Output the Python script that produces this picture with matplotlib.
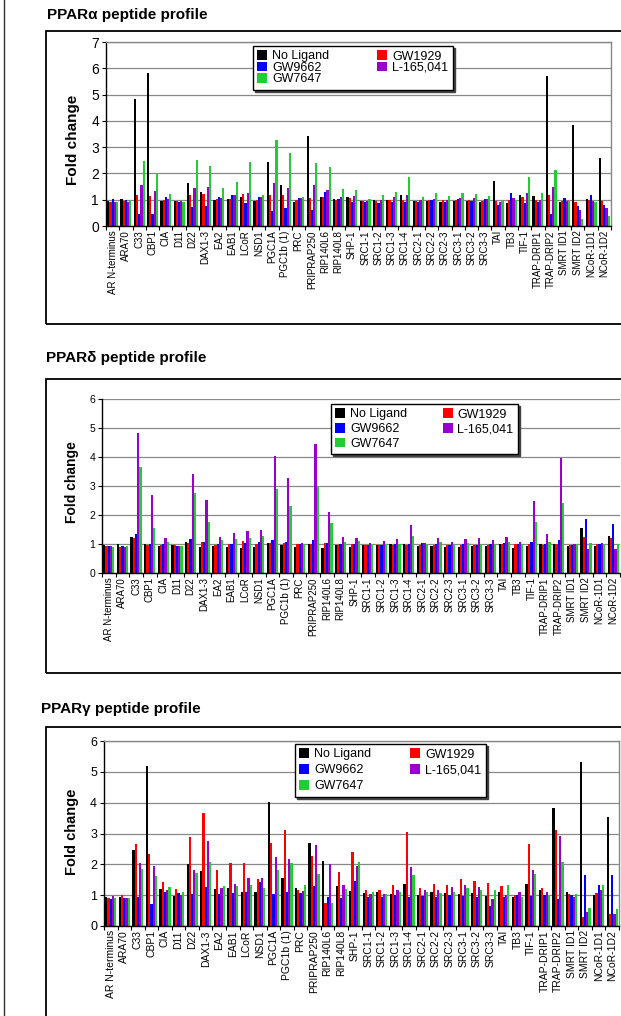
import matplotlib
matplotlib.use("Agg")
import matplotlib.pyplot as plt
from matplotlib.patches import Rectangle
from matplotlib.lines import Line2D
import numpy as np

plt.rcParams['font.family'] = ['Liberation Sans', 'DejaVu Sans']

peptides = ["AR N-terminus", "ARA70", "C33", "CBP1", "CIA", "D11", "D22", "DAX1-3",
            "EA2", "EAB1", "LCoR", "NSD1", "PGC1A", "PGC1b (1)", "PRC", "PRIPRAP250",
            "RIP140L6", "RIP140L8", "SHP-1", "SRC1-1", "SRC1-2", "SRC1-3", "SRC1-4",
            "SRC2-1", "SRC2-2", "SRC2-3", "SRC3-1", "SRC3-2", "SRC3-3", "TAI", "TB3",
            "TIF-1", "TRAP-DRIP1", "TRAP-DRIP2", "SMRT ID1", "SMRT ID2", "NCoR-1D1",
            "NCoR-1D2"]

ligands = ["No Ligand", "GW1929", "GW9662", "L-165,041", "GW7647"]
colors = ["#000000", "#FF0000", "#0000FF", "#9900CC", "#22CC33"]

# PPAR alpha fold changes
alpha_none = [0.95, 1.03, 4.84, 5.81, 0.95, 0.95, 1.64, 1.30, 0.99, 1.03, 1.10, 0.95, 2.44,
              1.56, 0.91, 3.43, 1.10, 1.03, 1.10, 0.95, 0.99, 0.99, 1.18, 0.95, 0.95, 0.91,
              0.95, 0.95, 0.91, 1.72, 0.88, 1.18, 1.14, 5.72, 0.91, 3.85, 1.03, 2.59]
alpha_gw1929 = [0.93, 0.94, 1.18, 1.14, 0.99, 0.95, 1.18, 1.22, 1.03, 1.03, 1.22, 0.99, 1.18,
                1.18, 0.99, 1.07, 1.10, 0.99, 1.07, 0.95, 0.95, 0.99, 0.99, 0.95, 0.99, 0.99,
                0.99, 0.99, 0.95, 0.95, 0.99, 1.10, 0.99, 1.18, 0.95, 0.91, 0.99, 0.95]
alpha_gw9662 = [1.03, 0.99, 0.47, 0.47, 1.10, 0.91, 0.72, 0.76, 1.10, 1.18, 0.88, 1.10, 0.57,
                0.69, 1.07, 0.61, 1.30, 1.03, 0.91, 0.91, 0.88, 0.91, 0.91, 0.91, 0.99, 0.91,
                1.03, 0.95, 1.03, 0.80, 1.26, 0.88, 0.91, 0.46, 1.07, 0.76, 1.18, 0.80]
alpha_l165 = [0.93, 0.93, 1.56, 1.33, 1.03, 0.95, 1.45, 1.49, 1.07, 1.18, 1.26, 1.10, 1.64,
              1.45, 1.07, 1.56, 1.37, 1.10, 1.14, 0.95, 0.99, 1.10, 1.18, 0.99, 1.03, 0.99,
              1.07, 1.07, 1.03, 0.91, 1.07, 1.26, 0.99, 1.49, 0.95, 0.61, 0.95, 0.69]
alpha_gw7647 = [0.93, 0.95, 2.48, 1.96, 1.22, 0.91, 2.52, 2.29, 1.45, 1.68, 2.44, 1.18, 3.28,
                2.78, 1.10, 2.40, 2.25, 1.41, 1.37, 1.03, 1.18, 1.30, 1.87, 1.10, 1.26, 1.14,
                1.26, 1.22, 1.14, 0.95, 0.99, 1.87, 1.26, 2.13, 0.95, 0.27, 0.91, 0.38]

# PPAR delta fold changes
delta_none = [0.98, 1.01, 1.25, 1.01, 0.94, 0.98, 1.08, 0.91, 0.94, 0.91, 0.87, 0.91, 1.05,
              0.98, 0.91, 1.01, 0.87, 0.98, 0.91, 0.98, 0.98, 1.01, 1.01, 0.94, 0.94, 0.91,
              0.91, 0.94, 0.94, 1.01, 0.87, 0.94, 1.01, 1.01, 0.94, 1.56, 0.94, 1.29]
delta_gw1929 = [0.94, 0.91, 1.22, 0.98, 0.98, 0.98, 1.05, 1.08, 0.98, 1.01, 1.11, 1.01, 1.05,
                1.05, 1.01, 1.01, 1.05, 0.98, 1.01, 0.98, 0.98, 0.98, 0.98, 0.98, 0.98, 0.98,
                0.98, 0.98, 0.98, 1.01, 1.01, 1.01, 0.98, 1.01, 0.98, 1.25, 1.01, 1.22]
delta_gw9662 = [0.94, 0.94, 1.36, 1.01, 1.01, 0.94, 1.18, 1.08, 1.01, 1.01, 1.05, 1.08, 1.15,
                1.08, 1.01, 1.15, 1.05, 1.01, 1.01, 0.98, 0.98, 1.01, 1.01, 1.05, 1.01, 0.98,
                1.01, 0.98, 1.01, 1.05, 1.01, 1.08, 1.01, 1.15, 0.98, 1.87, 1.01, 1.70]
delta_l165 = [0.94, 0.91, 4.84, 2.70, 1.22, 0.94, 3.43, 2.53, 1.25, 1.39, 1.46, 1.49, 4.05,
              3.29, 1.05, 4.46, 2.11, 1.25, 1.22, 1.05, 1.11, 1.18, 1.67, 1.05, 1.22, 1.08,
              1.18, 1.22, 1.15, 1.25, 1.08, 2.49, 1.36, 3.98, 1.01, 0.84, 1.05, 0.84]
delta_gw7647 = [0.91, 0.94, 3.67, 1.56, 1.08, 0.94, 2.77, 1.77, 1.15, 1.18, 1.22, 1.29, 2.91,
                2.32, 1.01, 2.98, 1.74, 1.08, 1.11, 1.01, 1.01, 1.01, 1.29, 1.01, 1.08, 0.98,
                1.05, 1.01, 1.01, 1.08, 1.01, 1.77, 1.08, 2.43, 1.01, 1.05, 1.01, 1.01]

# PPAR gamma fold changes
gamma_none = [0.95, 0.95, 2.47, 5.18, 1.20, 0.97, 2.01, 1.78, 1.20, 1.23, 1.10, 1.10, 4.01,
              1.55, 1.23, 2.69, 2.10, 1.29, 1.13, 1.07, 1.10, 1.04, 1.36, 1.00, 1.10, 1.07,
              1.04, 1.07, 0.97, 1.10, 0.94, 1.36, 1.17, 3.82, 1.10, 5.31, 1.00, 3.53]
gamma_gw1929 = [0.92, 1.01, 2.65, 2.33, 1.42, 1.20, 2.88, 3.66, 1.81, 2.04, 2.04, 1.52, 2.69,
                3.11, 1.17, 2.27, 0.74, 1.75, 2.39, 1.17, 1.17, 1.33, 3.04, 1.23, 1.36, 1.33,
                1.52, 1.46, 1.39, 1.29, 1.00, 2.65, 1.23, 3.11, 1.04, 0.29, 1.07, 0.39]
gamma_gw9662 = [0.88, 0.92, 0.95, 0.72, 1.10, 1.07, 1.04, 1.26, 1.04, 1.07, 1.10, 1.42, 1.04,
                1.10, 1.07, 1.29, 0.94, 0.91, 1.46, 0.94, 0.94, 1.00, 0.94, 0.97, 0.94, 1.00,
                0.97, 0.94, 0.65, 0.94, 1.00, 0.97, 1.00, 0.87, 1.00, 1.65, 1.33, 1.65]
gamma_l165 = [0.98, 0.92, 2.04, 1.94, 1.17, 1.00, 1.81, 2.75, 1.23, 1.36, 1.55, 1.55, 2.23,
              2.17, 1.13, 2.62, 2.01, 1.33, 1.94, 1.04, 1.04, 1.17, 1.91, 1.17, 1.17, 1.26,
              1.33, 1.26, 0.87, 1.00, 1.10, 1.81, 1.10, 2.91, 0.94, 0.45, 1.17, 0.40]
gamma_gw7647 = [0.92, 0.92, 1.84, 1.62, 1.26, 1.10, 1.72, 2.07, 1.29, 1.29, 1.33, 1.23, 1.81,
                2.04, 1.33, 1.68, 0.74, 1.20, 2.07, 1.10, 1.04, 1.10, 1.65, 1.10, 1.07, 1.10,
                1.23, 1.17, 1.17, 1.33, 0.94, 1.68, 1.00, 2.07, 1.04, 0.58, 1.33, 0.55]

W, H = 621, 1016
fig = plt.figure(figsize=(W / 100, H / 100), dpi=100)


def px(x0, y0, x1, y1):
    # pixel box (top-left origin) -> figure fraction rect
    return [x0 / W, 1 - y1 / H, (x1 - x0) / W, (y1 - y0) / H]


panels = [
    dict(title="PPARα peptide profile", data=[alpha_none, alpha_gw1929, alpha_gw9662, alpha_l165, alpha_gw7647],
         ax=(106, 42, 611, 226), ymax=7, box=(46, 31, 700, 324), title_xy=(47, 15), ylab_xy=(73, 140),
         leg=(253, 46), border=True, tick_fs=10, cat_fs=7, ylab_fs=11, leg_fs=9, leg_sp=-0.05,
         colsp=3.8),
    dict(title="PPARδ peptide profile", data=[delta_none, delta_gw1929, delta_gw9662, delta_l165, delta_gw7647],
         ax=(102, 399, 620, 573), ymax=6, box=(46, 379, 700, 673), title_xy=(46, 358), ylab_xy=(72, 482),
         leg=(331, 404), border=False, tick_fs=7.5, cat_fs=7, ylab_fs=10, leg_fs=9, leg_sp=0.2,
         colsp=2.8),
    dict(title="PPARγ peptide profile", data=[gamma_none, gamma_gw1929, gamma_gw9662, gamma_l165, gamma_gw7647],
         ax=(104, 741, 619, 926), ymax=6, box=(46, 727, 700, 1021), title_xy=(41, 709), ylab_xy=(72, 832),
         leg=(295, 744), border=True, tick_fs=9, cat_fs=7.5, ylab_fs=10.5, leg_fs=9, leg_sp=0.3,
         colsp=3.1),
]

# page edge line
fig.add_artist(Line2D([4 / W, 4 / W], [0, 1], color="#333333", lw=1, transform=fig.transFigure))

x = np.arange(len(peptides))
bw = 0.165

for p in panels:
    bx0, by0, bx1, by1 = p["box"]
    fig.add_artist(Rectangle((bx0 / W, 1 - by1 / H), (bx1 - bx0) / W, (by1 - by0) / H,
                             transform=fig.transFigure, fill=False, ec="black", lw=1.3))
    fig.text(p["title_xy"][0] / W, 1 - p["title_xy"][1] / H, p["title"], fontsize=11,
             fontweight="bold", va="center", ha="left")
    fig.text(p["ylab_xy"][0] / W, 1 - p["ylab_xy"][1] / H, "Fold change", fontsize=p["ylab_fs"],
             fontweight="bold", rotation=90, va="center", ha="center")

    ax = fig.add_axes(px(*p["ax"]))
    for i, (vals, c, lab) in enumerate(zip(p["data"], colors, ligands)):
        ax.bar(x + (i - 2) * bw, vals, width=bw, color=c, label=lab, linewidth=0)

    ax.set_xlim(-0.5, len(peptides) - 0.5)
    ax.set_ylim(0, p["ymax"])
    ax.set_yticks(range(p["ymax"] + 1))
    ax.yaxis.grid(True, color="#888888", lw=0.9)
    ax.set_axisbelow(True)

    ax.set_xticks(np.arange(-0.5, len(peptides)))
    ax.set_xticklabels([])
    ax.set_xticks(x, minor=True)
    ax.set_xticklabels(peptides, minor=True, rotation=90, fontsize=p["cat_fs"], va="top", ha="center")
    ax.tick_params(axis="x", which="major", length=3, width=0.8, direction="out")
    ax.tick_params(axis="x", which="minor", length=0, pad=3)
    ax.tick_params(axis="y", length=3, width=0.8, labelsize=p["tick_fs"], pad=2)

    for s in ["left", "bottom"]:
        ax.spines[s].set_color("black")
        ax.spines[s].set_linewidth(1)
    for s in ["top", "right"]:
        ax.spines[s].set_visible(p["border"])
        ax.spines[s].set_color("#888888")
        ax.spines[s].set_linewidth(1)

    h, l = ax.get_legend_handles_labels()
    order = [0, 2, 4, 1, 3]
    leg = ax.legend([h[k] for k in order], [l[k] for k in order], ncol=2,
                    loc="upper left", bbox_to_anchor=(p["leg"][0] / W, 1 - p["leg"][1] / H),
                    bbox_transform=fig.transFigure, borderaxespad=0, fontsize=p["leg_fs"],
                    frameon=True, fancybox=False, edgecolor="black", framealpha=1,
                    handlelength=0.8, handleheight=0.8, handletextpad=0.4,
                    columnspacing=p["colsp"], labelspacing=p["leg_sp"], borderpad=0.35,
                    shadow={"ox": 1.5, "oy": -1.5, "color": "#444444", "alpha": 1})
    leg.get_frame().set_linewidth(1)

fig.savefig("out.png", dpi=100)
